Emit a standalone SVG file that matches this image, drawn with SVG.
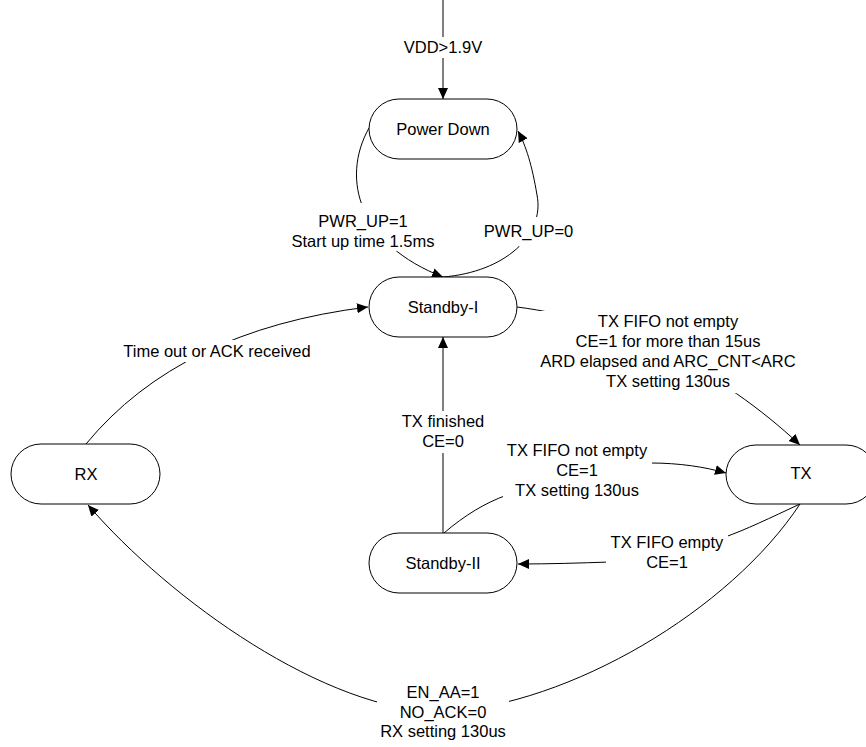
<svg xmlns="http://www.w3.org/2000/svg" width="866" height="747" viewBox="0 0 866 747">
<style>
  .node rect { fill: #ffffff; stroke: #000000; stroke-width: 1; }
  text { font-family: "Liberation Sans", Arial, sans-serif; font-size: 16.5px; fill: #000000; text-anchor: middle; }
  .edge { fill: none; stroke: #000000; stroke-width: 1; }
  .arr { marker-end: url(#ah); }
  .bg { fill: #ffffff; stroke: none; }
</style>
<defs>
  <marker id="ah" markerUnits="userSpaceOnUse" markerWidth="12" markerHeight="11" refX="11" refY="5" orient="auto">
    <path d="M0,0 L11,5 L0,10 z" fill="#000000"/>
  </marker>
</defs>
<rect width="866" height="747" fill="#ffffff"/>

<g id="connectors">
  <g id="e-vdd">
    <path class="edge arr" d="M443,0 L443,99"/>
    <rect class="bg" x="400" y="37" width="86" height="21"/>
    <text x="443" y="53">VDD&gt;1.9V</text>
  </g>
  <g id="e-pwrup1">
    <path class="edge arr" d="M369,128 C 340,180 360,245 443,277"/>
    <rect class="bg" x="286" y="203" width="154" height="48"/>
    <text x="363" y="227">PWR_UP=1</text>
    <text x="363" y="247">Start up time 1.5ms</text>
  </g>
  <g id="e-pwrup0">
    <path class="edge arr" d="M443,277 C 505,272 545,235 537,195 C 532,165 526,146 518,131"/>
    <rect class="bg" x="481" y="217" width="96" height="29"/>
    <text x="528.5" y="237">PWR_UP=0</text>
  </g>
  <g id="e-sb1-tx">
    <path class="edge arr" d="M517,307 C 620,320 720,370 800,445"/>
    <rect class="bg" x="530" y="311" width="276" height="82"/>
    <text x="668" y="327">TX FIFO not empty</text>
    <text x="668" y="347">CE=1 for more than 15us</text>
    <text x="668" y="367">ARD elapsed and ARC_CNT&lt;ARC</text>
    <text x="668" y="387">TX setting 130us</text>
  </g>
  <g id="e-rx-sb1">
    <path class="edge arr" d="M86,444 Q 180,330 368,307"/>
    <rect class="bg" x="120" y="340" width="195" height="22"/>
    <text x="217" y="357">Time out or ACK received</text>
  </g>
  <g id="e-sb2-sb1">
    <path class="edge arr" d="M443,533 L443,337"/>
    <rect class="bg" x="398" y="411" width="90" height="42"/>
    <text x="443" y="427">TX finished</text>
    <text x="443" y="447">CE=0</text>
  </g>
  <g id="e-sb2-tx">
    <path class="edge arr" d="M444,533 C 465,515 485,503 507,495 L 650,463 C 680,463 705,467 726,473"/>
    <rect class="bg" x="503" y="438" width="149" height="61"/>
    <text x="577" y="456">TX FIFO not empty</text>
    <text x="577" y="476">CE=1</text>
    <text x="577" y="496">TX setting 130us</text>
  </g>
  <g id="e-tx-sb2">
    <path class="edge arr" d="M800,504 C 770,518 745,530 725,537 L 610,562 C 580,563 550,564 518,564"/>
    <rect class="bg" x="606" y="531" width="122" height="43"/>
    <text x="667" y="548">TX FIFO empty</text>
    <text x="667" y="568">CE=1</text>
  </g>
  <g id="e-tx-rx">
    <path class="edge arr" d="M800,504 C 730,610 570,705 443,712 C 326,712 170,600 88,505"/>
    <rect class="bg" x="377" y="680" width="132" height="67"/>
    <text x="443" y="698">EN_AA=1</text>
    <text x="443" y="717.5">NO_ACK=0</text>
    <text x="443" y="737">RX setting 130us</text>
  </g>
</g>

<g id="node-powerdown" class="node">
  <rect x="369" y="99" width="148" height="60" rx="30" ry="30"/>
  <text x="443" y="135">Power Down</text>
</g>
<g id="node-standby1" class="node">
  <rect x="369" y="277" width="148" height="60" rx="30" ry="30"/>
  <text x="443" y="313">Standby-I</text>
</g>
<g id="node-rx" class="node">
  <rect x="11" y="444" width="149" height="60" rx="30" ry="30"/>
  <text x="86" y="480">RX</text>
</g>
<g id="node-tx" class="node">
  <rect x="726" y="445" width="150" height="59" rx="30" ry="30"/>
  <text x="801" y="479">TX</text>
</g>
<g id="node-standby2" class="node">
  <rect x="369" y="533" width="148" height="60" rx="30" ry="30"/>
  <text x="443" y="569">Standby-II</text>
</g>
</svg>
